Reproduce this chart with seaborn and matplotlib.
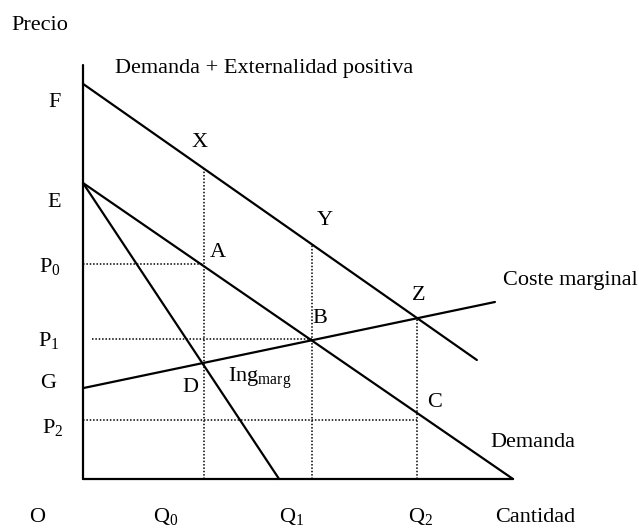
import numpy as np
import pandas as pd
import seaborn as sns
import matplotlib.pyplot as plt

# curvas (cantidad, precio)
q_demanda = [0.0, 10.0]
p_demanda = [10.0, 0.0]

q_externalidad = [0.0, 9.16]
p_externalidad = [13.35, 4.02]

q_coste = [0.0, 9.58]
p_coste = [3.07, 5.98]

q_ingreso = [0.0, 4.56]
p_ingreso = [10.0, 0.0]

# cantidades y precios de referencia
cantidades = [2.81, 5.33, 7.77]
precios = [7.26, 4.73, 1.99]
inicio_precios = [0.0, 0.21, 0.0]
largo_eje_x = 10.0
alto_eje_y = 14.0

# etiquetas: texto, x, y (linea base), alineacion
etiquetas = [
    ("Precio", -1.0, 15.17, "center"),
    ("Demanda + Externalidad positiva", 0.74, 13.72, "left"),
    ("F", -0.66, 12.57, "center"),
    ("E", -0.66, 9.19, "center"),
    (r"P$_0$", -0.78, 6.99, "center"),
    (r"P$_1$", -0.80, 4.49, "center"),
    ("G", -0.80, 3.07, "center"),
    (r"P$_2$", -0.71, 1.55, "center"),
    ("X", 2.72, 11.22, "center"),
    ("Y", 5.63, 8.58, "center"),
    ("A", 3.14, 7.50, "center"),
    ("B", 5.51, 5.27, "center"),
    ("Z", 7.81, 6.05, "center"),
    ("C", 8.17, 2.43, "center"),
    ("D", 2.49, 2.94, "center"),
    (r"Ing$_{marg}$", 3.37, 3.28, "left"),
    ("Coste marginal", 9.77, 6.55, "left"),
    ("Demanda", 9.47, 1.08, "left"),
    ("O", -1.07, -1.45, "center"),
    (r"Q$_0$", 1.93, -1.45, "center"),
    (r"Q$_1$", 4.84, -1.45, "center"),
    (r"Q$_2$", 7.84, -1.45, "center"),
    ("Cantidad", 9.58, -1.45, "left"),
]


def linea(ax, xs, ys, estilo="-", ancho=1.6):
    df = pd.DataFrame({"x": xs, "y": ys})
    sns.lineplot(data=df, x="x", y="y", ax=ax, color="black", linewidth=ancho,
                 linestyle=estilo, estimator=None, sort=False)


def main():
    sns.set_theme(style="white")
    plt.rcParams["font.family"] = ["Liberation Serif", "DejaVu Serif"]
    plt.rcParams["mathtext.fontset"] = "custom"
    plt.rcParams["mathtext.rm"] = "Liberation Serif"
    plt.rcParams["mathtext.default"] = "rm"

    fig = plt.figure(figsize=(6.39, 5.30), dpi=100)
    ax = fig.add_axes([0, 0, 1, 1])

    # ejes del diagrama
    linea(ax, [0, 0], [0, alto_eje_y])
    linea(ax, [0, largo_eje_x], [0, 0])

    # curvas
    linea(ax, q_demanda, p_demanda)
    linea(ax, q_externalidad, p_externalidad)
    linea(ax, q_coste, p_coste)
    linea(ax, q_ingreso, p_ingreso)

    # lineas de puntos
    punteado = (0, (1, 1.2))
    tope = np.interp(cantidades, q_externalidad, p_externalidad)
    for q, t in zip(cantidades, tope):
        linea(ax, [q, q], [0, t], estilo=punteado, ancho=1.1)
    for p, q, x0 in zip(precios, cantidades, inicio_precios):
        linea(ax, [x0, q], [p, p], estilo=punteado, ancho=1.1)

    for texto, x, y, ha in etiquetas:
        ax.text(x, y, texto, fontsize=16, ha=ha, va="baseline", color="black")

    ax.set_xlim(-83 / 43, (639 - 83) / 43)
    ax.set_ylim(-(530 - 479) / 29.6, 479 / 29.6)
    ax.axis("off")

    fig.savefig("out.png", dpi=100)


if __name__ == "__main__":
    main()
